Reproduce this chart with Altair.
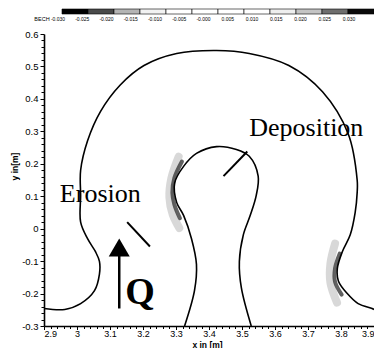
import altair as alt
import pandas as pd

# ---------------- data ----------------
outer_x = [2.900, 2.963, 3.011, 3.053, 3.068, 3.068, 3.056, 3.032, 3.011, 3.011, 3.011, 3.032,
           3.071, 3.131, 3.203, 3.302, 3.423, 3.522, 3.642, 3.744, 3.822, 3.849, 3.849, 3.843,
           3.828, 3.804, 3.789, 3.792, 3.819, 3.852, 3.894, 3.900]
outer_y = [-0.246, -0.249, -0.231, -0.191, -0.140, -0.101, -0.071, -0.031, 0.020, 0.102, 0.180, 0.271,
           0.361, 0.443, 0.503, 0.540, 0.549, 0.540, 0.503, 0.422, 0.292, 0.150, 0.111, 0.050,
           -0.019, -0.071, -0.122, -0.161, -0.200, -0.231, -0.246, -0.249]

inner_x = [3.326, 3.356, 3.362, 3.347, 3.323, 3.302, 3.296, 3.323, 3.362, 3.423, 3.483, 3.522,
           3.549, 3.543, 3.525, 3.504, 3.492, 3.498, 3.528]
inner_y = [-0.300, -0.191, -0.110, -0.031, 0.041, 0.081, 0.141, 0.192, 0.232, 0.253, 0.244, 0.223,
           0.162, 0.102, 0.041, -0.019, -0.101, -0.182, -0.300]

# gray erosion / deposition patches (None separates the two patches)
shade_dark_x = [3.318, 3.295, 3.289, 3.295, 3.312, None, 3.796, 3.782, 3.782, 3.802]
shade_dark_y = [0.207, 0.156, 0.111, 0.075, 0.032, None, -0.077, -0.122, -0.164, -0.203]
shade_light_x = [3.308, 3.286, 3.280, 3.290, 3.310, None, 3.782, 3.768, 3.768, 3.788]
shade_light_y = [0.222, 0.156, 0.096, 0.044, 0.002, None, -0.046, -0.107, -0.167, -0.228]

pointer_x = [3.444, 3.152]
pointer_y = [0.162, 0.020]
pointer_x2 = [3.516, 3.221]
pointer_y2 = [0.238, -0.055]

arrow_x = [3.128]
arrow_y = [-0.246]
arrow_y2 = [-0.070]
arrow_head_y = [-0.058]

notes = ["Deposition", "Erosion"]
notes_x = [3.522, 2.948]
notes_y = [0.286, 0.081]
q_label = ["Q"]
q_x = [3.146]
q_y = [-0.231]

legend_fill = ["#000000", "#4a4a4a", "#b4b4b4", "#f2f2f2", "#ffffff", "#ffffff",
               "#ffffff", "#ffffff", "#eeeeee", "#c4c4c4", "#6e6e6e", "#0a0a0a"]
legend_vals = [-0.030, -0.025, -0.020, -0.015, -0.010, -0.005, 0.000,
               0.005, 0.010, 0.015, 0.020, 0.025, 0.030]
legend_text = ["-0.030", "-0.025", "-0.020", "-0.015", "-0.010", "-0.005", "-0.000",
               "0.005", "0.010", "0.015", "0.020", "0.025", "0.030"]
legend_name = "BECH"

x_major = [2.9, 3.0, 3.1, 3.2, 3.3, 3.4, 3.5, 3.6, 3.7, 3.8, 3.9]
y_major = [-0.3, -0.2, -0.1, 0.0, 0.1, 0.2, 0.3, 0.4, 0.5, 0.6]

# ---------------- tables ----------------
def curve_df(name, xs, ys):
    return pd.DataFrame({"x": xs, "y": ys, "i": list(range(len(xs))), "c": name})

lines_df = pd.concat([curve_df("outer", outer_x, outer_y), curve_df("inner", inner_x, inner_y)])

def shade_df(xs, ys):
    rows, part = [], 0
    for k, (a, b) in enumerate(zip(xs, ys)):
        if a is None:
            part += 1
            continue
        rows.append({"x": a, "y": b, "i": k, "c": part})
    return pd.DataFrame(rows)

dark_df = shade_df(shade_dark_x, shade_dark_y)
light_df = shade_df(shade_light_x, shade_light_y)
ptr_df = pd.DataFrame({"x": pointer_x, "y": pointer_y, "x2": pointer_x2, "y2": pointer_y2})
arr_df = pd.DataFrame({"x": arrow_x, "y": arrow_y, "y2": arrow_y2, "h": arrow_head_y})
notes_df = pd.DataFrame({"x": notes_x, "y": notes_y, "t": notes})
q_df = pd.DataFrame({"x": q_x, "y": q_y, "t": q_label})
seg_df = pd.DataFrame({"s0": list(range(len(legend_fill))),
                       "s1": [k + 1 for k in range(len(legend_fill))],
                       "f": legend_fill})
lab_df = pd.DataFrame({"v": legend_vals, "t": legend_text})
name_df = pd.DataFrame({"t": [legend_name]})

x_ticks = [round(a + k * 0.02, 2) for a in x_major[:-1] for k in range(5)] + [x_major[-1]]
y_ticks = [round(a + k * 0.02, 2) for a in y_major[:-1] for k in range(5)] + [y_major[-1]]

major_test = "abs(datum.value*10 - round(datum.value*10)) < 0.001"

xscale = alt.Scale(domain=[2.9, 3.9], nice=False, zero=False)
yscale = alt.Scale(domain=[-0.3, 0.6], nice=False, zero=False)

x_axis = alt.Axis(values=x_ticks, labelOverlap=False, grid=False, labelPadding=0,
                  labelFontSize=9,
                  labelExpr=f"{major_test} ? format(datum.value, '.1~f') : ''",
                  tickSize={"condition": {"test": major_test, "value": 3.5}, "value": 2.5},
                  title="x in [m]", titleX=163, titleY=18, titleBaseline="middle",
                  titleAlign="center")
y_axis = alt.Axis(values=y_ticks, labelOverlap=False, grid=False, labelPadding=2,
                  labelFontSize=9.5,
                  labelExpr=f"{major_test} ? (datum.value < -0.001 ? '-' + format(-datum.value, '.1~f') : format(abs(datum.value), '.1~f')) : ''",
                  tickSize={"condition": {"test": major_test, "value": 4}, "value": 3},
                  title="y in[m]", titleX=-30, titleY=132, titleBaseline="middle",
                  titleAlign="center")

X = alt.X("x:Q", scale=xscale, axis=x_axis)
Y = alt.Y("y:Q", scale=yscale, axis=y_axis)

light = alt.Chart(light_df).mark_line(color="#a8a8a8", strokeWidth=8, opacity=0.45,
                                      strokeCap="round", interpolate="catmull-rom").encode(
    x=X, y=Y, detail="c:N", order="i:Q")
dark = alt.Chart(dark_df).mark_line(color="#3a3a3a", strokeWidth=4, opacity=0.8,
                                    strokeCap="round", interpolate="catmull-rom").encode(
    x=X, y=Y, detail="c:N", order="i:Q")
curves = alt.Chart(lines_df).mark_line(color="black", strokeWidth=1.6,
                                       interpolate="catmull-rom").encode(
    x=X, y=Y, detail="c:N", order="i:Q")
pointers = alt.Chart(ptr_df).mark_rule(color="black", strokeWidth=2).encode(
    x=X, y=Y, x2="x2:Q", y2="y2:Q")
shaft = alt.Chart(arr_df).mark_rule(color="black", strokeWidth=2.5).encode(
    x=X, y=Y, y2="y2:Q")
head = alt.Chart(arr_df).mark_point(shape="triangle-up", filled=True, size=441,
                                    color="black", opacity=1).encode(
    x=X, y=alt.Y("h:Q", scale=yscale, axis=y_axis))
note_txt = alt.Chart(notes_df).mark_text(font="Liberation Serif", fontSize=26, align="left",
                                         baseline="alphabetic", color="black").encode(
    x=X, y=Y, text="t:N")
q_txt = alt.Chart(q_df).mark_text(font="Liberation Serif", fontSize=38, fontWeight="bold",
                                  align="left", baseline="alphabetic", color="black").encode(
    x=X, y=Y, text="t:N")

main = alt.layer(light, dark, curves, pointers, shaft, head, note_txt, q_txt)

bar = alt.Chart(seg_df).mark_rect(stroke="black", strokeWidth=0.6).encode(
    x=alt.X("s0:Q", scale=alt.Scale(domain=[-0.692, 12], nice=False, zero=False), axis=None),
    x2="s1:Q",
    y=alt.value(-25), y2=alt.value(-20),
    fill=alt.Fill("f:N", scale=None))
bar_labels = alt.Chart(lab_df).mark_text(font="Liberation Sans", fontSize=5, color="black",
                                         baseline="middle").encode(
    x=alt.X("v:Q", scale=alt.Scale(domain=[-0.032887, 0.035155], nice=False, zero=False), axis=None),
    y=alt.value(-15), text="t:N")
bar_name = alt.Chart(name_df).mark_text(font="Liberation Sans", fontSize=5.5, color="black",
                                        baseline="middle").encode(
    x=alt.value(-2), y=alt.value(-15), text="t:N")

chart = alt.layer(main, bar, bar_labels, bar_name).resolve_scale(x="independent").properties(
    width=330, height=292,
    autosize=alt.AutoSizeParams(type="none"),
    padding={"left": 36, "top": 26, "right": 0, "bottom": 22},
    background="white",
).configure_view(stroke=None).configure_axis(
    domainColor="black", domainWidth=1.6, tickColor="black", tickWidth=1,
    labelFont="Liberation Sans", labelColor="black",
    titleFont="Liberation Sans", titleFontSize=8.5, titleFontWeight="bold", titleColor="black",
)

chart.save("out.html", embed_options={"renderer": "svg", "actions": False})
